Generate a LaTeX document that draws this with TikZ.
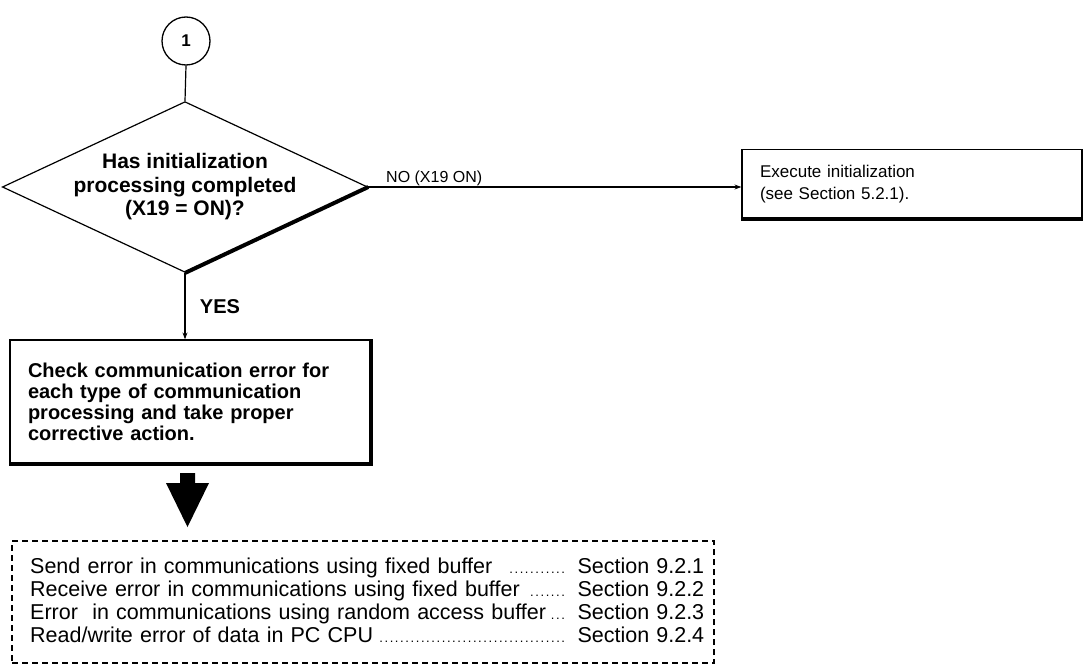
\documentclass[tikz,border=0pt]{standalone}
\usepackage{fontspec}
\setmainfont{Liberation Sans}
\usetikzlibrary{shapes.geometric,arrows.meta}
\newcommand{\leaderdots}{\leaders\hbox to 5.2pt{\hss{\fontsize{13}{13}\selectfont.}\hss}\hfill}
\begin{document}
\begin{tikzpicture}[x=1pt,y=-1pt,
  line/.style={line width=1.2pt},
  shadowedge/.style={line width=4pt},
  box/.style={draw, line width=1.2pt, align=left, inner sep=0pt},
  arr/.style={-{Stealth[length=7pt,width=5pt]}, line width=1.1pt}]
\useasboundingbox (0,0) rectangle (1083,666);

\node[circle, draw, line width=1.3pt, minimum size=48pt, inner sep=0pt,
      font=\bfseries\fontsize{17}{20}\selectfont] (c1) at (186,41) {1};

\node[diamond, draw, line width=1.2pt, aspect=2.14, minimum width=356pt,
      minimum height=166pt, inner sep=0pt, align=center,
      font=\bfseries\fontsize{21}{23.5}\selectfont] (dec) at (185,187)
      {Has initialization\\processing completed\\(X19 = ON)?};
\draw[line] (c1.south) -- (dec.north);
\draw[shadowedge] (dec.south) -- (dec.east);

\node[box, minimum width=340pt, minimum height=69pt, text width=304pt,
      font=\fontsize{17}{22}\selectfont] (exec) at (912,184)
      {Execute initialization\\(see Section 5.2.1).};
\draw[shadowedge] (exec.north east) -- (exec.south east) -- (exec.south west);

\draw[arr] (dec.east) -- (dec.east -| exec.west);
\node[anchor=base west, inner sep=0pt, font=\fontsize{16}{18}\selectfont] (nolab) at (386,182) {NO (X19 ON)};

\node[box, minimum width=360pt, minimum height=123pt, text width=324pt,
      font=\bfseries\fontsize{20}{21}\selectfont] (check) at (190,401.5)
      {Check communication error for\\each type of communication\\processing and take proper\\corrective action.};
\draw[shadowedge] (check.north east) -- (check.south east) -- (check.south west);

\draw[arr] (dec.south) -- (dec.south |- check.north);
\node[font=\bfseries\fontsize{20}{22}\selectfont, inner sep=0pt] (yes) at (220,307) {YES};

\fill (180,473) -- (195,473) -- (195,483) -- (209,483) -- (187.5,527) -- (166,483) -- (180,483) -- cycle;

\node[draw, dash pattern=on 6pt off 4pt, line width=1.2pt, minimum width=702pt,
      minimum height=122pt, inner sep=0pt] (list) at (363,602) {};
\node[anchor=west, text width=674pt, align=left, inner sep=0pt,
      font=\fontsize{21.5}{23}\selectfont] (listtext) at (30,600)
  {Send error in communications using fixed buffer\hspace{12pt}\leaderdots\hspace{9pt}Section 9.2.1\\
   Receive error in communications using fixed buffer\hspace{6pt}\leaderdots\hspace{9pt}Section 9.2.2\\
   Error\ \ in communications using random access buffer\hspace{4pt}\leaderdots\hspace{9pt}Section 9.2.3\\
   Read/write error of data in PC CPU\hspace{4pt}\leaderdots\hspace{9pt}Section 9.2.4};
\end{tikzpicture}
\end{document}
